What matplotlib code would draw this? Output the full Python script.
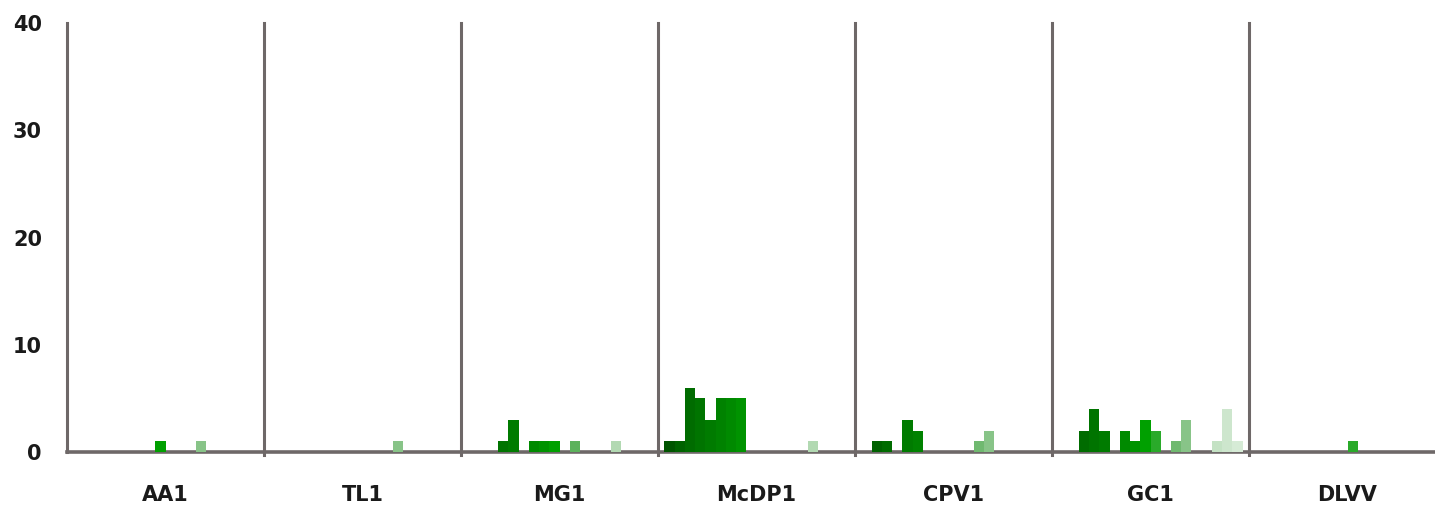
import numpy as np
import matplotlib
matplotlib.use("Agg")
import matplotlib.pyplot as plt

# === Data (counts per sub-series, 18 sub-series per category)
categories = ["AA1", "TL1", "MG1", "McDP1", "CPV1", "GC1", "DLVV"]
aa1 = [0, 0, 0, 0, 0, 0, 0, 0, 1, 0, 0, 0, 1, 0, 0, 0, 0, 0]
tl1 = [0, 0, 0, 0, 0, 0, 0, 0, 0, 0, 0, 0, 1, 0, 0, 0, 0, 0]
mg1 = [0, 0, 0, 1, 3, 0, 1, 1, 1, 0, 1, 0, 0, 0, 1, 0, 0, 0]
mcdp1 = [1, 1, 6, 5, 3, 5, 5, 5, 0, 0, 0, 0, 0, 0, 1, 0, 0, 0]
cpv1 = [0, 1, 1, 0, 3, 2, 0, 0, 0, 0, 0, 1, 2, 0, 0, 0, 0, 0]
gc1 = [0, 0, 2, 4, 2, 0, 2, 1, 3, 2, 0, 1, 3, 0, 0, 1, 4, 1]
dlvv = [0, 0, 0, 0, 0, 0, 0, 0, 0, 1, 0, 0, 0, 0, 0, 0, 0, 0]
y_ticks = [0, 10, 20, 30, 40]

# green shades, dark -> light, one per sub-series
shades = ["#005400", "#006200", "#006c00", "#007400", "#007b00", "#008200",
          "#008a00", "#009300", "#00a000", "#2aaa2a", "#5cb25c", "#70b970",
          "#88c488", "#9ccd9c", "#b2d9b2", "#c4e2c4", "#cde6cd", "#d6ebd6"]

rows = [aa1, tl1, mg1, mcdp1, cpv1, gc1, dlvv]
n_sub = len(shades)
bar_w = 0.052
start = (1 - n_sub * bar_w) / 2

line_grey = "#6e6868"

fig = plt.figure(figsize=(14.35, 5.08), dpi=100)
ax = fig.add_axes([67 / 1435, 56 / 508, 1379 / 1435, 429 / 508])

for i in range(n_sub):
    x = np.arange(len(categories)) + start + (i + 0.5) * bar_w
    h = [r[i] for r in rows]
    ax.bar(x, h, width=bar_w, color=shades[i], linewidth=0, zorder=3)

ax.set_xlim(0, len(categories))
ax.set_ylim(0, 40)

# group separators
for k in range(1, len(categories)):
    ax.plot([k, k], [-0.3, 40], color=line_grey, lw=2.2, clip_on=False, zorder=2)

for s in ["top", "right"]:
    ax.spines[s].set_visible(False)
ax.spines["left"].set_color(line_grey)
ax.spines["left"].set_linewidth(2.2)
ax.spines["bottom"].set_color(line_grey)
ax.spines["bottom"].set_linewidth(2.6)
ax.spines["bottom"].set_zorder(1)

ax.set_yticks(y_ticks)
ax.set_yticklabels([str(t) for t in y_ticks], fontsize=15, fontweight="bold", color="#1a1a1a")
ax.set_xticks(np.arange(len(categories)) + 0.5)
ax.set_xticklabels(categories, fontsize=15, fontweight="bold", color="#1a1a1a")
ax.tick_params(axis="y", length=0, pad=18)
ax.tick_params(axis="x", length=0, pad=24)

plt.savefig("out.png", dpi=100)
